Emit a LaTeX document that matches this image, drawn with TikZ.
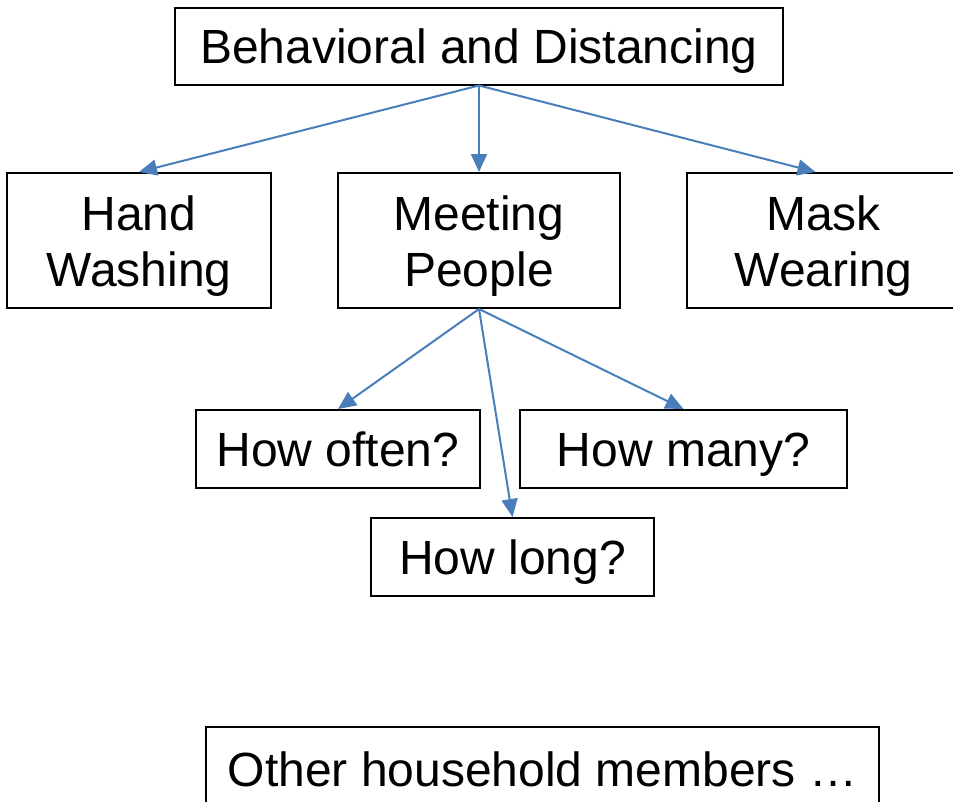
\documentclass[tikz,border=0pt]{standalone}
\usepackage{fontspec}
\setmainfont{Liberation Sans}
\usetikzlibrary{arrows.meta}

\definecolor{linkblue}{RGB}{74,126,187}

\begin{document}
\begin{tikzpicture}[x=1pt,y=-1pt,>={Triangle[length=18pt,width=16pt]},
    box/.style={draw,line width=2pt,inner sep=0pt,align=center,
        text height=35pt,text depth=0pt,
        font=\fontsize{48}{56}\selectfont},
    twobox/.style={box,text height=91pt,minimum width=#1,minimum height=135pt},
    link/.style={->,draw=linkblue,fill=linkblue,line width=2pt}]
    \clip (0,0) rectangle (953,801);

    \node[box,minimum width=608pt,minimum height=77pt] (top) at (479,46) {Behavioral and Distancing};

    \node[twobox=264pt] (hand) at (139,240.5) {Hand\\Washing};
    \node[twobox=282pt] (meet) at (479,240.5) {Meeting\\People};
    \node[twobox=273pt] (mask) at (823.5,240.5) {Mask\\Wearing};

    \node[box,minimum width=284pt,minimum height=78pt] (often) at (338,449) {How often?};
    \node[box,minimum width=327pt,minimum height=78pt] (many) at (683.5,449) {How many?};
    \node[box,minimum width=283pt,minimum height=78pt] (long) at (512.5,557) {How long?};

    \node[box,minimum width=673pt,minimum height=84pt] (other) at (542.5,769) {Other household members \dots};

    \path[link] (top.south) -- (hand.north);
    \path[link] (top.south) -- (meet.north);
    \path[link] (top.south) -- ([xshift=-8pt]mask.north);
    \path[link] (meet.south) -- (often.north);
    \path[link] (meet.south) -- (many.north);
    \path[link] (meet.south) -- (long.north);
\end{tikzpicture}
\end{document}
